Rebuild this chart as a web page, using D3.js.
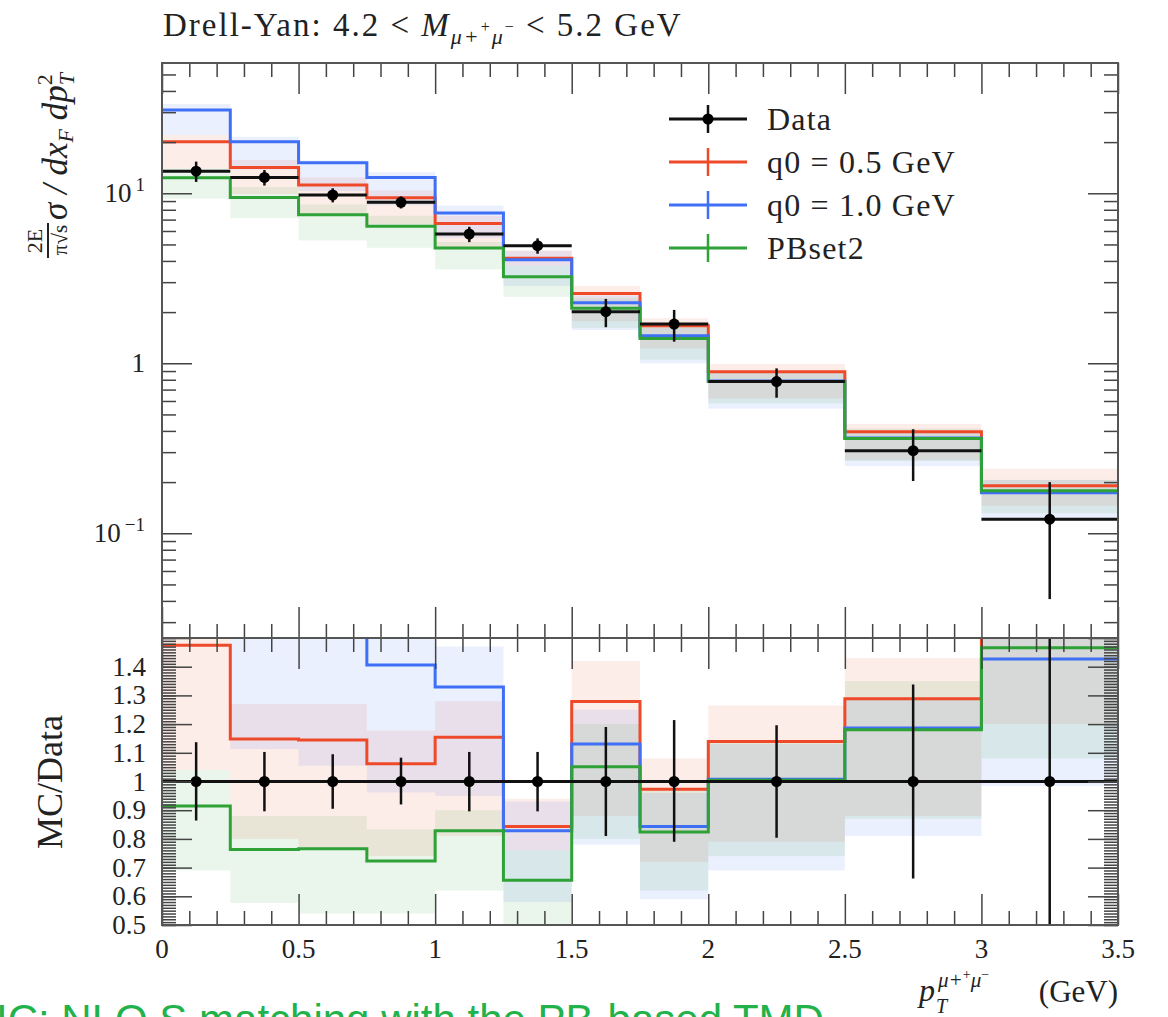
<!DOCTYPE html>
<html>
<head>
<meta charset="utf-8">
<script src="https://cdn.jsdelivr.net/npm/d3@7"></script>
<style>
body { margin: 0; background: #fff; }
svg text { font-family: "Liberation Serif", "DejaVu Serif", serif; fill: #222; }
</style>
</head>
<body>
<svg id="chart" width="1168" height="1017"></svg>
<script>
// bin edges in pT (GeV)
var binEdges = [0, 0.25, 0.5, 0.75, 1.0, 1.25, 1.5, 1.75, 2.0, 2.5, 3.0, 3.5];

// data points (main panel)
var dataVal   = [13.5, 12.4, 9.77, 8.85, 5.76, 4.92, 2.01, 1.70, 0.78, 0.306, 0.121];
var dataLo    = [11.66, 11.1, 8.84, 8.14, 5.16, 4.41, 1.63, 1.34, 0.627, 0.203, 0.041];
var dataHi    = [15.35, 13.7, 10.7, 9.58, 6.35, 5.43, 2.39, 2.06, 0.933, 0.409, 0.20];

// MC predictions (main panel)
var redVal   = [20.1, 14.2, 11.2, 9.4, 6.65, 4.15, 2.57, 1.66, 0.89, 0.396, 0.19];
var blueVal  = [30.9, 20.1, 15.1, 12.4, 7.65, 4.07, 2.27, 1.45, 0.786, 0.363, 0.173];
var greenVal = [12.35, 9.46, 7.48, 6.4, 4.77, 3.23, 2.11, 1.40, 0.78, 0.361, 0.178];

// MC bands (main panel)
var redLo   = [14.0, 9.9, 7.45, 6.55, 4.67, 3.74, 1.77, 1.22, 0.62, 0.27, 0.145];
var redHi   = [22.0, 15.7, 12.4, 10.4, 7.37, 4.62, 2.85, 1.84, 0.99, 0.44, 0.24];
var blueLo  = [22.0, 13.8, 10.3, 8.5, 5.47, 2.85, 1.57, 1.0, 0.54, 0.248, 0.119];
var blueHi  = [33.5, 21.5, 15.6, 13.3, 8.47, 4.58, 2.51, 1.63, 0.88, 0.395, 0.206];
var greenLo = [9.3, 7.15, 5.28, 4.78, 3.57, 2.46, 1.61, 1.05, 0.58, 0.266, 0.131];
var greenHi = [14.0, 10.9, 8.6, 7.37, 5.18, 3.74, 2.41, 1.65, 0.89, 0.413, 0.206];

// ratio panel: MC / Data
var ratioRed   = [1.475, 1.148, 1.145, 1.062, 1.154, 0.843, 1.279, 0.973, 1.139, 1.288, 1.57];
var ratioBlue  = [2.29, 1.62, 1.55, 1.406, 1.329, 0.828, 1.131, 0.843, 1.008, 1.186, 1.427];
var ratioGreen = [0.915, 0.763, 0.766, 0.723, 0.828, 0.656, 1.051, 0.824, 1.004, 1.18, 1.466];

var ratioRedLo   = [1.04, 0.80, 0.763, 0.74, 0.81, 0.76, 0.88, 0.72, 0.79, 0.88, 1.2];
var ratioRedHi   = [1.65, 1.27, 1.27, 1.177, 1.28, 0.94, 1.42, 1.08, 1.265, 1.43, 2.0];
var ratioBlueLo  = [1.6, 1.113, 1.055, 0.962, 0.95, 0.58, 0.78, 0.59, 0.69, 0.81, 0.985];
var ratioBlueHi  = [2.5, 1.8, 1.6, 1.55, 1.47, 0.93, 1.25, 0.96, 1.13, 1.29, 1.7];
var ratioGreenLo = [0.69, 0.577, 0.54, 0.54, 0.62, 0.50, 0.80, 0.62, 0.74, 0.87, 1.08];
var ratioGreenHi = [1.04, 0.88, 0.88, 0.833, 0.90, 0.76, 1.20, 0.97, 1.14, 1.35, 1.7];

var ratioErrLo = [0.864, 0.896, 0.905, 0.92, 0.896, 0.896, 0.81, 0.79, 0.804, 0.662, 0.34];
var ratioErrHi = [1.137, 1.103, 1.095, 1.083, 1.103, 1.103, 1.19, 1.214, 1.196, 1.338, 1.66];

var xTickLabels = ["0", "0.5", "1", "1.5", "2", "2.5", "3", "3.5"];
var ratioTickLabels = ["1.4", "1.3", "1.2", "1.1", "1", "0.9", "0.8", "0.7", "0.6", "0.5"];
var legendLabels = ["Data", "q0 = 0.5 GeV", "q0 = 1.0 GeV", "PBset2"];

var colRed = "#ee4a2a", colBlue = "#3f6ff5", colGreen = "#2ea236";

var svg = d3.select("#chart");
var pLeft = 162, pRight = 1118, pTop = 63, pMid = 638, pBottom = 925;

var x = d3.scaleLinear().domain([0, 3.5]).range([pLeft, pRight]);
var y = d3.scaleLog().domain([0.0242, 58.4]).range([pMid, pTop]);
var yr = d3.scaleLinear().domain([0.5, 1.5]).range([pBottom, pMid]);

var defs = svg.append("defs");
defs.append("clipPath").attr("id", "clipTop")
  .append("rect").attr("x", pLeft).attr("y", pTop).attr("width", pRight - pLeft).attr("height", pMid - pTop);
defs.append("clipPath").attr("id", "clipRatio")
  .append("rect").attr("x", pLeft).attr("y", pMid).attr("width", pRight - pLeft).attr("height", pBottom - pMid);

var gTop = svg.append("g").attr("clip-path", "url(#clipTop)");
var gRat = svg.append("g").attr("clip-path", "url(#clipRatio)");

var bins = d3.range(binEdges.length - 1);

function drawBands(g, ys, lo, hi, col) {
  g.selectAll(null).data(bins).enter().append("rect")
    .attr("x", function(i){ return x(binEdges[i]); })
    .attr("width", function(i){ return x(binEdges[i+1]) - x(binEdges[i]); })
    .attr("y", function(i){ return ys(hi[i]); })
    .attr("height", function(i){ return ys(lo[i]) - ys(hi[i]); })
    .attr("fill", col).attr("fill-opacity", 0.1);
}

function drawStep(g, ys, vals, col) {
  var pts = [];
  bins.forEach(function(i){
    pts.push([binEdges[i], vals[i]]);
    pts.push([binEdges[i+1], vals[i]]);
  });
  g.append("path")
    .attr("d", d3.line().x(function(d){ return x(d[0]); }).y(function(d){ return ys(d[1]); })(pts))
    .attr("fill", "none").attr("stroke", col).attr("stroke-width", 3);
}

// bands
drawBands(gTop, y, redLo, redHi, colRed);
drawBands(gTop, y, blueLo, blueHi, colBlue);
drawBands(gTop, y, greenLo, greenHi, colGreen);
drawBands(gRat, yr, ratioRedLo, ratioRedHi, colRed);
drawBands(gRat, yr, ratioBlueLo, ratioBlueHi, colBlue);
drawBands(gRat, yr, ratioGreenLo, ratioGreenHi, colGreen);

// lines
drawStep(gTop, y, redVal, colRed);
drawStep(gTop, y, blueVal, colBlue);
drawStep(gTop, y, greenVal, colGreen);
drawStep(gRat, yr, ratioRed, colRed);
drawStep(gRat, yr, ratioBlue, colBlue);
drawStep(gRat, yr, ratioGreen, colGreen);

// data, main panel
function binMid(i){ return (binEdges[i] + binEdges[i+1]) / 2; }
gTop.selectAll(null).data(bins).enter().append("line")
  .attr("x1", function(i){ return x(binEdges[i]); })
  .attr("x2", function(i){ return x(binEdges[i+1]); })
  .attr("y1", function(i){ return y(dataVal[i]); })
  .attr("y2", function(i){ return y(dataVal[i]); })
  .attr("stroke", "#111").attr("stroke-width", 3);
gTop.selectAll(null).data(bins).enter().append("line")
  .attr("x1", function(i){ return x(binMid(i)); })
  .attr("x2", function(i){ return x(binMid(i)); })
  .attr("y1", function(i){ return y(dataLo[i]); })
  .attr("y2", function(i){ return y(dataHi[i]); })
  .attr("stroke", "#111").attr("stroke-width", 2.5);
gTop.selectAll(null).data(bins).enter().append("circle")
  .attr("cx", function(i){ return x(binMid(i)); })
  .attr("cy", function(i){ return y(dataVal[i]); })
  .attr("r", 5.5).attr("fill", "#000");

// data, ratio panel
gRat.append("line")
  .attr("x1", pLeft).attr("x2", pRight).attr("y1", yr(1)).attr("y2", yr(1))
  .attr("stroke", "#111").attr("stroke-width", 3);
gRat.selectAll(null).data(bins).enter().append("line")
  .attr("x1", function(i){ return x(binMid(i)); })
  .attr("x2", function(i){ return x(binMid(i)); })
  .attr("y1", function(i){ return yr(ratioErrLo[i]); })
  .attr("y2", function(i){ return yr(ratioErrHi[i]); })
  .attr("stroke", "#111").attr("stroke-width", 2.5);
gRat.selectAll(null).data(bins).enter().append("circle")
  .attr("cx", function(i){ return x(binMid(i)); })
  .attr("cy", yr(1))
  .attr("r", 5.5).attr("fill", "#000");

// ticks
var xMajor = d3.range(0, 3.51, 0.5);
var xMinor = d3.range(0, 3.51, 0.1).filter(function(v){ return Math.abs(v*2 - Math.round(v*2)) > 1e-6; });
var logMajor = [0.1, 1, 10];
var logMinor = [];
[0.01, 0.1, 1, 10].forEach(function(d){
  for (var k = 2; k <= 9; k++) { var v = d*k; if (v > 0.0242 && v < 58.4) logMinor.push(v); }
});
var rMajor = d3.range(0.5, 1.501, 0.1);
var rMinor = d3.range(0.5, 1.501, 0.01);

function tickAxis(axis, tr, len) {
  var g = svg.append("g").attr("transform", tr).call(axis.tickSize(len).tickFormat(""));
  g.select(".domain").remove();
  g.selectAll("line").attr("stroke", "#444").attr("stroke-width", 1.5);
}

tickAxis(d3.axisBottom(x).tickValues(xMajor), "translate(0," + pTop + ")", 31);
tickAxis(d3.axisBottom(x).tickValues(xMinor), "translate(0," + pTop + ")", 14);
tickAxis(d3.axisTop(x).tickValues(xMajor), "translate(0," + pMid + ")", 31);
tickAxis(d3.axisTop(x).tickValues(xMinor), "translate(0," + pMid + ")", 14);
tickAxis(d3.axisBottom(x).tickValues(xMajor), "translate(0," + pMid + ")", 31);
tickAxis(d3.axisBottom(x).tickValues(xMinor), "translate(0," + pMid + ")", 14);
tickAxis(d3.axisTop(x).tickValues(xMajor), "translate(0," + pBottom + ")", 31);
tickAxis(d3.axisTop(x).tickValues(xMinor), "translate(0," + pBottom + ")", 14);

tickAxis(d3.axisRight(y).tickValues(logMajor), "translate(" + pLeft + ",0)", 30);
tickAxis(d3.axisRight(y).tickValues(logMinor), "translate(" + pLeft + ",0)", 14);
tickAxis(d3.axisLeft(y).tickValues(logMajor), "translate(" + pRight + ",0)", 30);
tickAxis(d3.axisLeft(y).tickValues(logMinor), "translate(" + pRight + ",0)", 14);

tickAxis(d3.axisRight(yr).tickValues(rMajor), "translate(" + pLeft + ",0)", 30);
tickAxis(d3.axisRight(yr).tickValues(rMinor), "translate(" + pLeft + ",0)", 14);
tickAxis(d3.axisLeft(yr).tickValues(rMajor), "translate(" + pRight + ",0)", 30);
tickAxis(d3.axisLeft(yr).tickValues(rMinor), "translate(" + pRight + ",0)", 14);

// frames
svg.append("rect").attr("x", pLeft).attr("y", pTop).attr("width", pRight - pLeft).attr("height", pMid - pTop)
  .attr("fill", "none").attr("stroke", "#555").attr("stroke-width", 2);
svg.append("rect").attr("x", pLeft).attr("y", pMid).attr("width", pRight - pLeft).attr("height", pBottom - pMid)
  .attr("fill", "none").attr("stroke", "#555").attr("stroke-width", 2);

// tick labels
svg.selectAll(null).data(xMajor).enter().append("text")
  .attr("x", function(d){ return x(d); }).attr("y", 958)
  .attr("text-anchor", "middle").attr("font-size", 27)
  .text(function(d, i){ return xTickLabels[i]; });

var logLab = svg.append("g");
[[10, "10", "1"], [1, "1", ""], [0.1, "10", "\u22121"]].forEach(function(t){
  var tx = logLab.append("text").attr("x", 145).attr("y", y(t[0]) + 9)
    .attr("text-anchor", "end").attr("font-size", 27);
  tx.append("tspan").text(t[1]);
  if (t[2]) tx.append("tspan").attr("dy", -11).attr("dx", 4).attr("font-size", 19).text(t[2]);
});

svg.selectAll(null).data(ratioTickLabels).enter().append("text")
  .attr("x", 146).attr("y", function(d){ return yr(+d) + 9; })
  .attr("text-anchor", "end").attr("font-size", 27)
  .text(function(d){ return d; });

// title
var title = svg.append("text").attr("x", 163).attr("y", 36).attr("font-size", 33).attr("letter-spacing", 2);
title.append("tspan").text("Drell-Yan: 4.2 < ");
title.append("tspan").attr("font-style", "italic").text("M");
title.append("tspan").attr("font-size", 22).attr("font-style", "italic").attr("dy", 8).text("\u03bc+");
title.append("tspan").attr("font-size", 16).attr("dy", -12).text("+");
title.append("tspan").attr("font-size", 22).attr("font-style", "italic").attr("dy", 12).text("\u03bc");
title.append("tspan").attr("font-size", 16).attr("dy", -12).text("\u2212");
title.append("tspan").attr("dy", 4).text(" < 5.2 GeV");

// y labels
var yl = svg.append("g").attr("transform", "translate(70,254) rotate(-90)");
yl.append("text").attr("x", 13).attr("y", -28).attr("font-size", 22).attr("text-anchor", "middle").text("2E");
yl.append("line").attr("x1", -4).attr("x2", 31).attr("y1", -22).attr("y2", -22).attr("stroke", "#222").attr("stroke-width", 2);
yl.append("text").attr("x", 14).attr("y", -3).attr("font-size", 21).attr("text-anchor", "middle").text("\u03c0\u221as");
var yt = yl.append("text").attr("x", 34).attr("y", -3).attr("font-size", 35).attr("font-style", "italic");
yt.append("tspan").text("\u03c3 / dx");
yt.append("tspan").attr("font-size", 22).attr("dy", 6).text("F");
yt.append("tspan").attr("dy", -6).text(" dp");
yt.append("tspan").attr("font-size", 22).attr("dy", -15).attr("font-style", "normal").text("2");
yt.append("tspan").attr("font-size", 22).attr("dx", -11).attr("dy", 22).text("T");

svg.append("text").attr("transform", "translate(62,782) rotate(-90)")
  .attr("text-anchor", "middle").attr("font-size", 36).text("MC/Data");

// x label
svg.append("text").attr("x", 919).attr("y", 1001).attr("font-size", 32).attr("font-style", "italic").text("p");
svg.append("text").attr("x", 936).attr("y", 1013).attr("font-size", 20).attr("font-style", "italic").text("T");
var xs = svg.append("text").attr("x", 938).attr("y", 987).attr("font-size", 21);
xs.append("tspan").attr("font-style", "italic").text("\u03bc+");
xs.append("tspan").attr("font-size", 14).attr("dy", -8).text("+");
xs.append("tspan").attr("font-style", "italic").attr("dy", 8).text("\u03bc");
xs.append("tspan").attr("font-size", 14).attr("dy", -8).text("\u2212");
svg.append("text").attr("x", 1118).attr("y", 1002).attr("text-anchor", "end").attr("font-size", 31).text("(GeV)");

// legend
var legCols = ["#111", colRed, colBlue, colGreen];
var leg = svg.append("g");
legendLabels.forEach(function(lab, i){
  var ly = 119 + i * 43;
  leg.append("line").attr("x1", 669).attr("x2", 747).attr("y1", ly).attr("y2", ly)
    .attr("stroke", legCols[i]).attr("stroke-width", 3);
  leg.append("line").attr("x1", 708).attr("x2", 708).attr("y1", ly - 14).attr("y2", ly + 14)
    .attr("stroke", legCols[i]).attr("stroke-width", 2.5);
  if (i === 0) leg.append("circle").attr("cx", 708).attr("cy", ly).attr("r", 5.5).attr("fill", "#000");
  leg.append("text").attr("x", 767).attr("y", ly + 11).attr("font-size", 32).attr("letter-spacing", 1.2).text(lab);
});

// caption fragment cut by the picture edge
svg.append("text").attr("x", -4).attr("y", 1034).attr("font-size", 42)
  .style("font-family", "'Liberation Sans', Arial, sans-serif").style("fill", "#21b24b")
  .text("IC: NLO S matching with the PB-based TMD");
</script>
</body>
</html>
